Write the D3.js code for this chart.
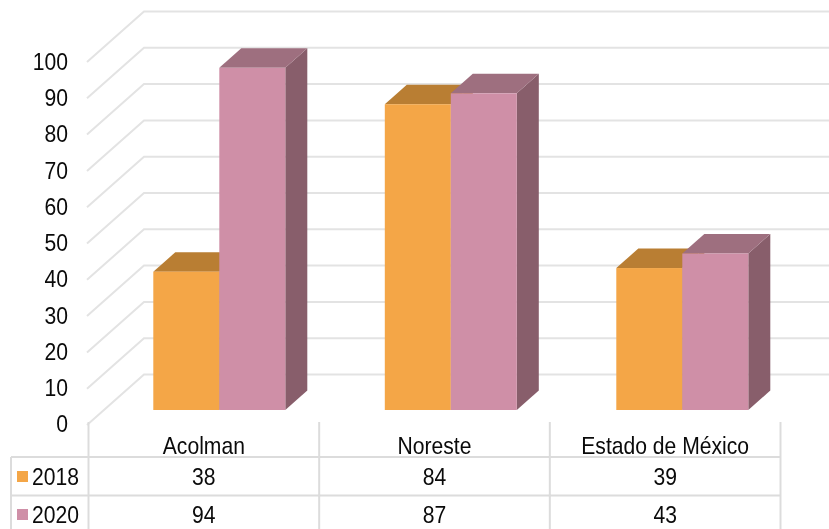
<!DOCTYPE html>
<html><head><meta charset="utf-8">
<script src="https://cdnjs.cloudflare.com/ajax/libs/d3/7.8.5/d3.min.js"></script>
<style>html,body{margin:0;padding:0;background:#fff;overflow:hidden}svg{display:block;filter:blur(0.35px)}text{font-family:"Liberation Sans",Arial,sans-serif;fill:#0a0a0a}</style>
</head><body><svg id="c" width="829" height="529"></svg>
<script>
const categories = ["Acolman","Noreste","Estado de México"];
const seriesNames = ["2018","2020"];
const values2018 = [38,84,39];
const values2020 = [94,87,43];
const yTicks = [0,10,20,30,40,50,60,70,80,90,100];
const colors = {"2018":{front:"#F4A647",top:"#B97E33",side:"#B97E33"},"2020":{front:"#CF8FA7",top:"#9E6F7F",side:"#885E6B"}};
const seriesValues = {"2018":values2018,"2020":values2020};

const svg = d3.select("#c");
const grid = "#e3e3e3";
const yWall = d3.scaleLinear().domain([0,100]).range([425,62]);
const yLabel = d3.scaleLinear().domain([0,100]).range([424.5,62]);
const yBar = d3.scaleLinear().domain([0,100]).range([410,46]);
const xCat = d3.scaleBand().domain(categories).range([88.5,780.5]);
const xBar = d3.scaleBand().domain(categories).range([88.5,783]);
const xSer = d3.scaleBand().domain(seriesNames).range([64.8,196.8]);
const wallDx = 57, wallDy = -50.5, barDx = 22, barDy = -19.5;
const font = 24, squeeze = 0.88;

function label(x,y,t,anchor){
  svg.append("text").attr("transform",`translate(${x},${y}) scale(${squeeze},1)`)
    .attr("text-anchor",anchor).attr("dominant-baseline","central")
    .attr("font-size",font).text(t);
}

// wall grid
yTicks.forEach(t=>{
  const y=yWall(t);
  svg.append("path").attr("fill","none").attr("stroke",grid).attr("stroke-width",2)
    .attr("d",`M${wallDx+30},${y}L${30+wallDx+wallDx},${y+wallDy}L829,${y+wallDy}`);
  label(68,yLabel(t),t,"end");
});

// bars
categories.forEach((c,i)=>{
  seriesNames.forEach(s=>{
    const v=seriesValues[s][i], col=colors[s];
    const x0=xBar(c)+xSer(s), x1=x0+xSer.bandwidth(), y0=yBar(0), y1=yBar(v);
    svg.append("path").attr("fill",col.side).attr("d",`M${x1},${y1}L${x1+barDx},${y1+barDy}L${x1+barDx},${y0+barDy}L${x1},${y0}Z`);
    svg.append("path").attr("fill",col.top).attr("d",`M${x0},${y1}L${x0+barDx},${y1+barDy}L${x1+barDx},${y1+barDy}L${x1},${y1}Z`);
    svg.append("rect").attr("x",x0).attr("y",y1).attr("width",x1-x0).attr("height",y0-y1).attr("fill",col.front);
  });
});

// data table
const rowY=[457,495.5];
const line=(x1,y1,x2,y2)=>svg.append("line").attr("x1",x1).attr("y1",y1).attr("x2",x2).attr("y2",y2).attr("stroke","#dcdcdc").attr("stroke-width",2);
rowY.forEach(y=>line(11,y,780.5,y));
line(11,457,11,529);
xCat.domain().forEach(c=>line(xCat(c),422,xCat(c),529));
line(xCat.range()[1],422,xCat.range()[1],529);
categories.forEach((c,i)=>{
  const cx=xCat(c)+xCat.bandwidth()/2;
  label(cx,446,c,"middle");
  label(cx,477.5,values2018[i],"middle");
  label(cx,515,values2020[i],"middle");
});
seriesNames.forEach((s,i)=>{
  const y=[477,515][i];
  svg.append("rect").attr("x",17).attr("y",y-6).attr("width",11).attr("height",11).attr("fill",colors[s].front);
  label(32,y,s,"start");
});
</script></body></html>
